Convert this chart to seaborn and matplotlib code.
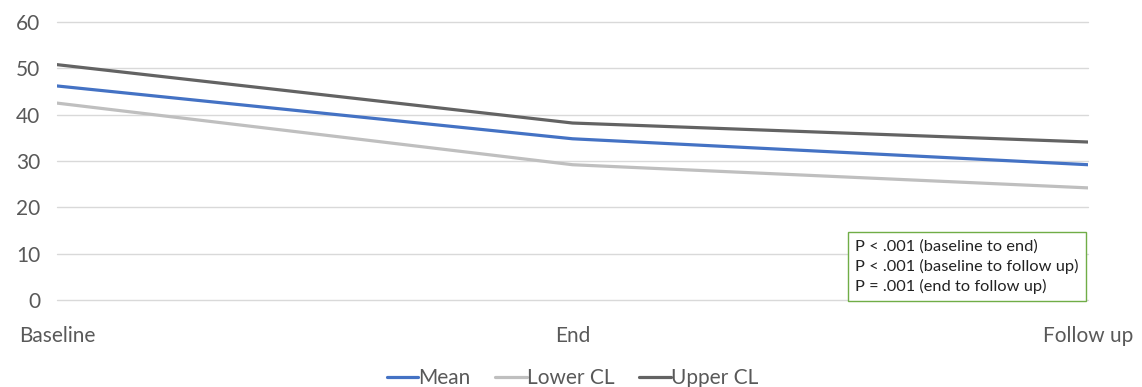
import matplotlib
matplotlib.use("Agg")
import matplotlib.pyplot as plt
import seaborn as sns
import pandas as pd

timepoints = ["Baseline", "End", "Follow up"]
mean_vals = [46.2, 34.8, 29.2]
lower_cl = [42.5, 29.2, 24.2]
upper_cl = [50.8, 38.2, 34.1]
series_names = ["Mean", "Lower CL", "Upper CL"]
palette = {"Mean": "#4472C4", "Lower CL": "#BFBFBF", "Upper CL": "#636363"}
p_text = "P < .001 (baseline to end)\nP < .001 (baseline to follow up)\nP = .001 (end to follow up)"

rows = []
for name, vals in zip(series_names, [mean_vals, lower_cl, upper_cl]):
    for t, v in zip(timepoints, vals):
        rows.append({"time": t, "value": v, "series": name})
df = pd.DataFrame(rows)

sns.set_style("white")
plt.rcParams["font.family"] = ["Lato", "DejaVu Sans"]

fig = plt.figure(figsize=(11.42, 3.87), dpi=100)
ax = fig.add_axes([0.0499, 0.2248, 0.9028, 0.7183])

sns.lineplot(data=df, x="time", y="value", hue="series", hue_order=series_names,
             palette=palette, linewidth=2.3, ax=ax, sort=False)

ax.set_xlim(0, 2)
ax.set_ylim(0, 60)
ax.set_yticks([0, 10, 20, 30, 40, 50, 60])
ax.grid(axis="y", color="#D9D9D9", linewidth=1)
for gl in ax.get_ygridlines():
    gl.set_clip_on(False)
ax.set_axisbelow(True)
for s in ax.spines.values():
    s.set_visible(False)
ax.set_xlabel("")
ax.set_ylabel("")
ax.tick_params(axis="y", length=0, pad=12, labelsize=15, labelcolor="#595959")
ax.tick_params(axis="x", length=0, pad=19, labelsize=15, labelcolor="#595959")

handles, labels = ax.get_legend_handles_labels()
ax.legend(handles, labels, loc="center", bbox_to_anchor=(0.5, -0.28), ncol=3,
          frameon=False, handlelength=1.5, handletextpad=0.0, columnspacing=1.2,
          fontsize=15, labelcolor="#595959")

# p-value annotation box, bottom resting on the 0 gridline
ax.text(0.774, 0.218, p_text, transform=ax.transAxes, fontsize=11.8, color="#222222",
        va="top", ha="left", linespacing=1.42,
        bbox=dict(boxstyle="square,pad=0.45", facecolor="white", edgecolor="#70AD47", linewidth=1))

fig.savefig("out.png", dpi=100)
